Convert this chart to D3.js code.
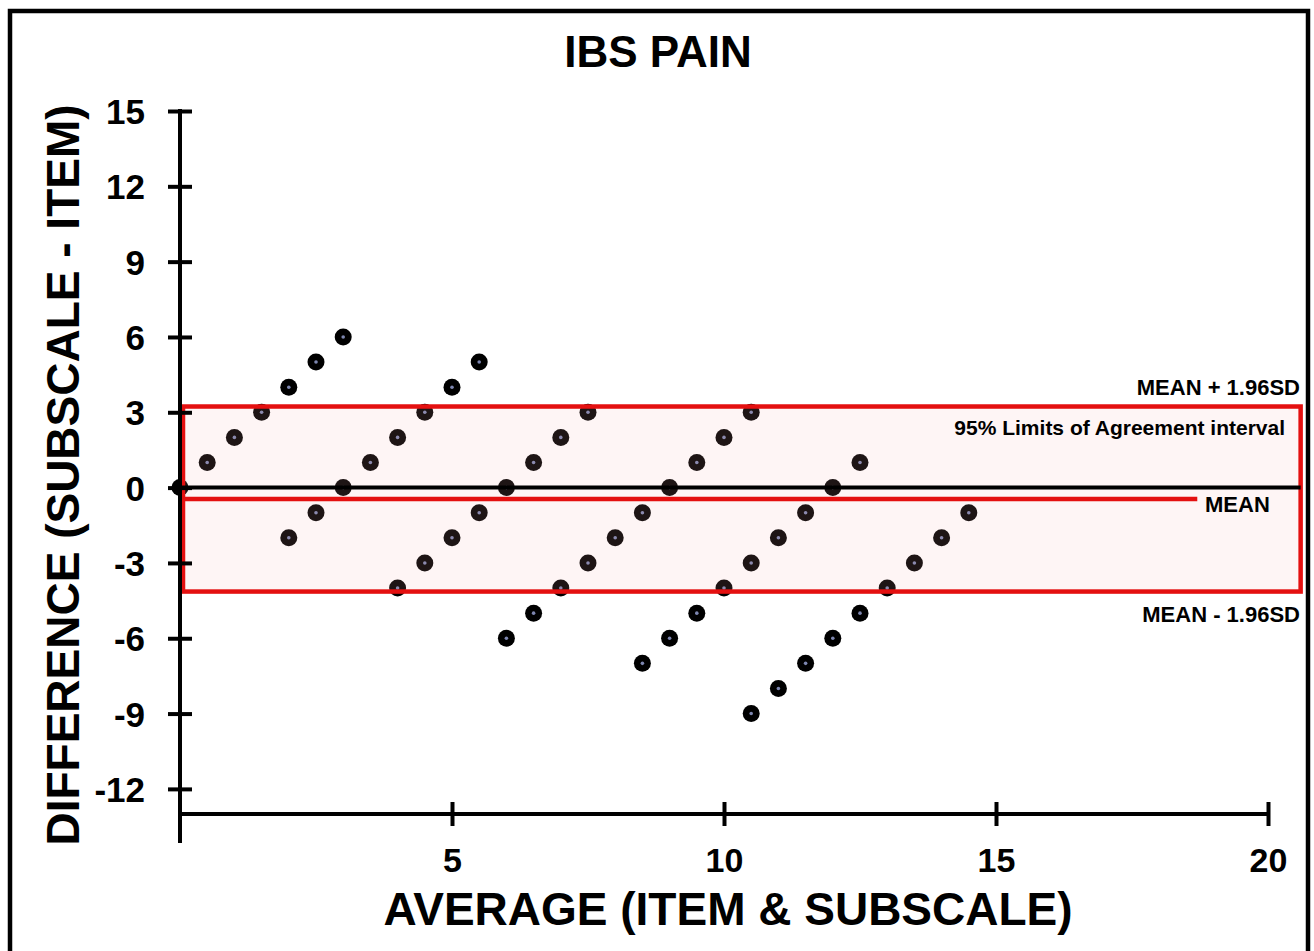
<!DOCTYPE html>
<html>
<head>
<meta charset="utf-8">
<script src="https://cdn.jsdelivr.net/npm/d3@7"></script>
<style>
  html, body { margin: 0; padding: 0; background: #fff; }
  svg { display: block; font-family: Arial, "Liberation Sans", sans-serif; font-weight: bold; }
</style>
</head>
<body>
<svg id="chart" width="1314" height="951"></svg>
<script>
// Data: average (x) and difference (y) for each observation
const averages = [0, 0.5, 1, 1.5, 2, 2.5, 3,
  2, 2.5, 3, 3.5, 4, 4.5, 5, 5.5,
  4, 4.5, 5, 5.5, 6, 6.5, 7, 7.5,
  6, 6.5, 7, 7.5, 8, 8.5, 9, 9.5, 10, 10.5,
  8.5, 9, 9.5, 10, 10.5, 11, 11.5, 12, 12.5,
  10.5, 11, 11.5, 12, 12.5, 13, 13.5, 14, 14.5];
const differences = [0, 1, 2, 3, 4, 5, 6,
  -2, -1, 0, 1, 2, 3, 4, 5,
  -4, -3, -2, -1, 0, 1, 2, 3,
  -6, -5, -4, -3, -2, -1, 0, 1, 2, 3,
  -7, -6, -5, -4, -3, -2, -1, 0, 1,
  -9, -8, -7, -6, -5, -4, -3, -2, -1];
const meanDiff = -0.45;
const upperLoA = 3.23;
const lowerLoA = -4.14;
const xTicks = [5, 10, 15, 20];
const yTicks = [15, 12, 9, 6, 3, 0, -3, -6, -9, -12];
const xDomain = [0, 20];
const yDomain = [-13, 15];
const limitsExtent = 20.6;   // right end of LoA box / zero line (x units)
const meanLineEnd = 18.7;    // right end of red mean line (x units)

const svg = d3.select("#chart");
const x = d3.scaleLinear().domain(xDomain).range([180, 1268]);
const y = d3.scaleLinear().domain(yDomain).range([814, 111]);

// outer frame
svg.append("rect").attr("x", 10).attr("y", 11).attr("width", 1298).attr("height", 1000)
  .attr("fill", "none").attr("stroke", "#000").attr("stroke-width", 4.5);

// title
svg.append("text").attr("x", 658).attr("y", 67).attr("text-anchor", "middle")
  .attr("font-size", 44).text("IBS PAIN");

// points
const pts = svg.append("g");
averages.forEach((a, i) => {
  pts.append("circle").attr("cx", x(a)).attr("cy", y(differences[i])).attr("r", 8.5).attr("fill", "#000");
  pts.append("circle").attr("cx", x(a)).attr("cy", y(differences[i])).attr("r", 1.8).attr("fill", "#7d86b0");
});

// LoA box
svg.append("rect")
  .attr("x", x(0) + 3).attr("y", y(upperLoA))
  .attr("width", x(limitsExtent) - x(0) - 3).attr("height", y(lowerLoA) - y(upperLoA))
  .attr("fill", "rgba(245,170,170,0.12)").attr("stroke", "#e41010").attr("stroke-width", 4.5);

// zero line
svg.append("line").attr("x1", x(0)).attr("x2", x(limitsExtent)).attr("y1", y(0)).attr("y2", y(0))
  .attr("stroke", "#000").attr("stroke-width", 4);
// mean line
svg.append("line").attr("x1", x(0) + 3).attr("x2", x(meanLineEnd)).attr("y1", y(meanDiff)).attr("y2", y(meanDiff))
  .attr("stroke", "#e41010").attr("stroke-width", 4.5);

// axes
const fmt = d => String(d);
const yAxis = d3.axisLeft(y).tickValues(yTicks).tickSize(12).tickPadding(23).tickFormat(fmt);
const gy = svg.append("g").attr("transform", `translate(${x(0)},0)`).call(yAxis);
gy.select(".domain").remove();
gy.selectAll(".tick line").attr("x1", 12).attr("x2", -12).attr("stroke", "#000").attr("stroke-width", 4);
gy.selectAll(".tick text").attr("font-size", 35).attr("font-family", "Arial, 'Liberation Sans', sans-serif")
  .attr("font-weight", "bold").attr("fill", "#000").attr("dy", "0.36em");
svg.append("line").attr("x1", x(0)).attr("x2", x(0)).attr("y1", y(15) - 2).attr("y2", 843)
  .attr("stroke", "#000").attr("stroke-width", 4);

const xAxis = d3.axisBottom(x).tickValues(xTicks).tickSize(12).tickPadding(22).tickFormat(fmt);
const gx = svg.append("g").attr("transform", `translate(0,${y(-13)})`).call(xAxis);
gx.select(".domain").remove();
gx.selectAll(".tick line").attr("y1", -12).attr("y2", 12).attr("stroke", "#000").attr("stroke-width", 4);
gx.selectAll(".tick text").attr("font-size", 34).attr("font-family", "Arial, 'Liberation Sans', sans-serif")
  .attr("font-weight", "bold").attr("fill", "#000");
svg.append("line").attr("x1", x(0)).attr("x2", x(20) + 2).attr("y1", y(-13)).attr("y2", y(-13))
  .attr("stroke", "#000").attr("stroke-width", 4);

// axis titles
svg.append("text").attr("x", 728).attr("y", 925).attr("text-anchor", "middle")
  .attr("font-size", 46).text("AVERAGE (ITEM & SUBSCALE)");
svg.append("text").attr("transform", "translate(79,475) rotate(-90)").attr("text-anchor", "middle")
  .attr("font-size", 46).text("DIFFERENCE (SUBSCALE - ITEM)");

// annotations
svg.append("text").attr("x", 1300).attr("y", 395).attr("text-anchor", "end").attr("font-size", 22).text("MEAN + 1.96SD");
svg.append("text").attr("x", 1285).attr("y", 435).attr("text-anchor", "end").attr("font-size", 21).text("95% Limits of Agreement interval");
svg.append("text").attr("x", 1205).attr("y", 512).attr("text-anchor", "start").attr("font-size", 22).text("MEAN");
svg.append("text").attr("x", 1300).attr("y", 622).attr("text-anchor", "end").attr("font-size", 22).text("MEAN - 1.96SD");
</script>
</body>
</html>
